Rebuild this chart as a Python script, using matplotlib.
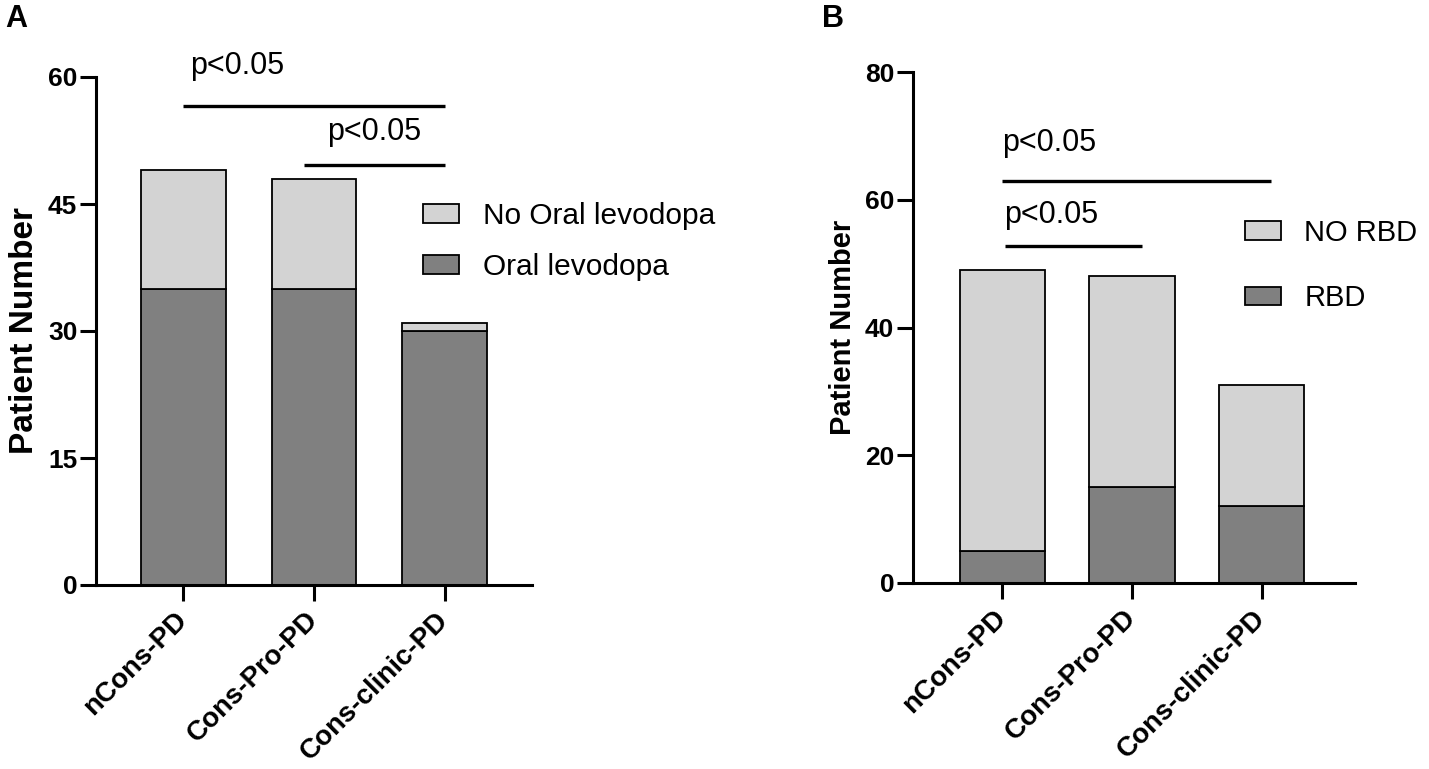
import matplotlib
matplotlib.use("Agg")
import matplotlib.pyplot as plt

plt.rcParams['font.family'] = ['Liberation Sans', 'DejaVu Sans']

groups = ["nCons-PD", "Cons-Pro-PD", "Cons-clinic-PD"]

# panel A
oral_levodopa = [35, 35, 30]
no_oral_levodopa = [14, 13, 1]
a_ticks = [0, 15, 30, 45, 60]

# panel B
rbd = [5, 15, 12]
no_rbd = [44, 33, 19]
b_ticks = [0, 20, 40, 60, 80]

DARK = "#808080"
LIGHT = "#d3d3d3"

W, H = 1429, 769
fig = plt.figure(figsize=(W / 100, H / 100), dpi=100)


def px_axes(x0, x1, y_top, y_bot):
    return fig.add_axes([x0 / W, 1 - y_bot / H, (x1 - x0) / W, (y_bot - y_top) / H])


def style_axes(ax, ticks, tick_fs, ylabel_fs):
    for s in ["top", "right"]:
        ax.spines[s].set_visible(False)
    for s in ["left", "bottom"]:
        ax.spines[s].set_linewidth(2.2)
    ax.set_yticks(ticks)
    ax.set_ylim(ticks[0], ticks[-1])
    ax.tick_params(axis="both", length=11.5, width=2.2)
    ax.tick_params(axis="y", labelsize=tick_fs, pad=2)
    for lab in ax.get_yticklabels():
        lab.set_fontweight("bold")
    ax.set_xticks(range(len(groups)))
    ax.set_xticklabels(groups, rotation=45, ha="right", va="center",
                       rotation_mode="anchor", fontsize=20, fontweight="bold")
    ax.tick_params(axis="x", pad=11)
    ax.set_ylabel("Patient Number", fontsize=ylabel_fs, fontweight="bold", labelpad=6)


def sig_bar(ax, x0, x1, y, tx, ty):
    ax.plot([x0, x1], [y, y], color="black", lw=2.4, clip_on=False, solid_capstyle="butt")
    ax.text(tx, ty, "p<0.05", fontsize=22, ha="left", va="center", clip_on=False)


# ---- panel A ----
axA = px_axes(96, 532, 77, 585)
x = range(len(groups))
b1 = axA.bar(x, oral_levodopa, width=0.65, color=DARK, edgecolor="black", lw=1.3)
b2 = axA.bar(x, no_oral_levodopa, width=0.65, bottom=oral_levodopa, color=LIGHT,
             edgecolor="black", lw=1.3)
axA.set_xlim(-0.67, 2.67)
style_axes(axA, a_ticks, 19, 24)
sig_bar(axA, 0, 2, 56.6, 0.05, 61.3)
sig_bar(axA, 0.92, 2, 49.6, 1.10, 53.5)
axA.legend([b2, b1], ["No Oral levodopa", "Oral levodopa"], frameon=False, fontsize=21.5,
           loc="upper left", bbox_to_anchor=(423 / W, 1 - 202 / H), bbox_transform=fig.transFigure,
           borderpad=0, borderaxespad=0, handlelength=1.2, handleheight=0.6,
           handletextpad=0.8, labelspacing=0.77)
fig.text(5 / W, 1 - 19 / H, "A", fontsize=22, fontweight="bold", va="center", ha="left")

# ---- panel B ----
axB = px_axes(913, 1355, 72, 583)
c1 = axB.bar(x, rbd, width=0.66, color=DARK, edgecolor="black", lw=1.3)
c2 = axB.bar(x, no_rbd, width=0.66, bottom=rbd, color=LIGHT, edgecolor="black", lw=1.3)
axB.set_xlim(-0.69, 2.72)
style_axes(axB, b_ticks, 19, 21)
sig_bar(axB, 0, 2.07, 62.9, 0.0, 68.9)
sig_bar(axB, 0.02, 1.08, 52.7, 0.01, 57.6)
axB.legend([c2, c1], ["NO RBD", "RBD"], frameon=False, fontsize=21,
           loc="upper left", bbox_to_anchor=(1245 / W, 1 - 219 / H), bbox_transform=fig.transFigure,
           borderpad=0, borderaxespad=0, handlelength=1.25, handleheight=0.6,
           handletextpad=0.78, labelspacing=1.27)
fig.text(822 / W, 1 - 19 / H, "B", fontsize=22, fontweight="bold", va="center", ha="left")

fig.savefig("out.png", dpi=100)
